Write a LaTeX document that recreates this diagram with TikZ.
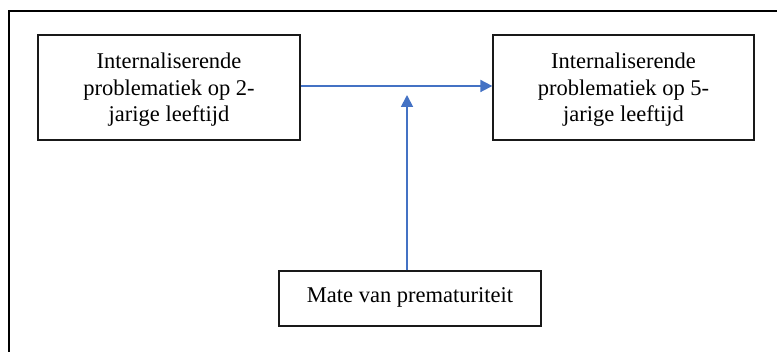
\documentclass[tikz,border=0pt]{standalone}
\usepackage{fontspec}
\setmainfont{Liberation Serif}
\usetikzlibrary{arrows.meta}
\definecolor{arrowblue}{RGB}{68,114,196}
\begin{document}
\begin{tikzpicture}[x=1pt,y=1pt,
  box/.style={draw=black!90,line width=1.3pt,inner sep=0pt},
  txt/.style={align=center,inner sep=0pt,font=\fontsize{22.5}{26.5}\selectfont},
  conn/.style={draw=arrowblue,line width=1.8pt,-{Triangle[length=12pt,width=12pt]}}]
\useasboundingbox (0,0) rectangle (777,352);
\draw[line width=1.4pt] (9,0) -- (9,341) -- (777,341);
\node[box,minimum width=262pt,minimum height=105pt] (left) at (169,264.5) {};
\node[txt] (lefttext) at ([yshift=-2.5pt]left.center)
  {Internaliserende\\problematiek op 2-\\jarige leeftijd};
\node[box,minimum width=261pt,minimum height=105pt] (right) at (623.5,264.5) {};
\node[txt] (righttext) at ([yshift=-2.5pt]right.center)
  {Internaliserende\\problematiek op 5-\\jarige leeftijd};
\node[box,minimum width=262pt,minimum height=55pt] (bottom) at (410,53.5) {};
\node[txt] (bottomtext) at ([yshift=1pt]bottom.center) {Mate van prematuriteit};
\coordinate (tip) at (407,257);
\draw[conn] ([yshift=1.5pt]left.east) -- ([yshift=1.5pt]right.west);
\draw[conn] (bottom.north -| tip) -- (tip);
\end{tikzpicture}
\end{document}
